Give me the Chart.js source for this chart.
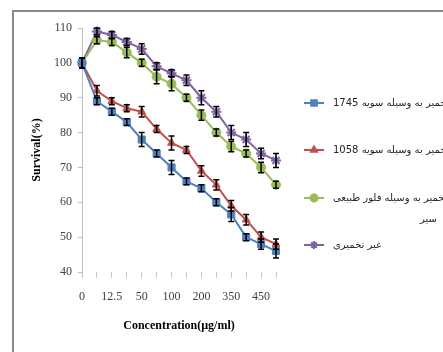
<!DOCTYPE html>
<html>
<head>
<meta charset="utf-8">
<script src="https://cdn.jsdelivr.net/npm/chart.js@4"></script>
<style>
  html, body { margin: 0; padding: 0; background: #fff; overflow: hidden; }
  #wrap { position: relative; width: 443px; height: 352px; }
  #frame { position: absolute; left: 12px; top: 10px; width: 500px; height: 400px;
           border-left: 2px solid #8a8a8a; border-top: 2px solid #8a8a8a; }
  canvas { position: absolute; left: 0; top: 0; }
</style>
</head>
<body>
<div id="wrap">
  <div id="frame"></div>
  <canvas id="chart" width="443" height="352"></canvas>
</div>
<script>
// Data
const concentrations = ['0', '6.25', '12.5', '25', '50', '75', '100', '150', '200', '300', '350', '400', '450', '500']
const yTicks = [40, 50, 60, 70, 80, 90, 100, 110]

const strain1745 = [100, 89, 86, 83, 78, 74, 70, 66, 64, 60, 56.5, 50, 48, 46]
const strain1058 = [100, 92, 89, 87, 86, 81, 77, 75, 69, 65, 59, 55, 50, 48]
const naturalFlora = [100, 106.5, 106, 103, 100, 96, 94, 90, 85, 80, 76, 74, 70, 65]
const unfermented = [100, 109, 108, 106, 104, 99, 97, 95, 90, 86, 80, 78, 74, 72]

const err1745 = [1.5, 1, 1, 1, 2, 1, 2, 1, 1, 1, 2, 1, 1.5, 2]
const err1058 = [1.5, 1.5, 1, 1, 1.5, 1, 2, 1, 1.5, 1.5, 1.5, 1.5, 1.5, 1.5]
const errFlora = [1.5, 1, 1, 1.5, 1, 2, 2, 1, 1.5, 1, 1.5, 1, 1.5, 1]
const errUnfermented = [1.5, 1, 1, 1, 1.5, 1, 1, 1.5, 2, 1.5, 2, 2, 1.5, 2]

const seriesNames = [
    ['تخمیر به وسیله سویه 1745'],
    ['تخمیر به وسیله سویه 1058'],
    ['تخمیر به وسیله فلور طبیعی', 'سیر'],
    ['غیر تخمیری']
]

const blue = '#4f81bd'
const red = '#c0504d'
const green = '#9bbb59'
const purple = '#8064a2'

function makeSet(idx, data, errors, color, style, radius) {
    return {
        label: seriesNames[idx].join(' '),
        data: data,
        errors: errors,
        borderColor: color,
        backgroundColor: color,
        pointBackgroundColor: color,
        pointBorderColor: color,
        pointStyle: style,
        pointRadius: radius,
        pointBorderWidth: style === 'star' ? 2 : 1,
        borderWidth: 2,
        tension: 0,
        clip: false
    }
}

// error bars drawn through the scales
const errorBars = {
    id: 'errorBars',
    afterDatasetsDraw(chart) {
        const { ctx, scales: { x, y } } = chart
        ctx.save()
        ctx.strokeStyle = '#000'
        ctx.lineWidth = 1.5
        chart.data.datasets.forEach(ds => {
            ds.data.forEach((v, i) => {
                const e = ds.errors[i]
                const px = x.getPixelForValue(i)
                const top = y.getPixelForValue(v + e)
                const bot = y.getPixelForValue(v - e)
                ctx.beginPath()
                ctx.moveTo(px, top); ctx.lineTo(px, bot)
                ctx.moveTo(px - 3, top); ctx.lineTo(px + 3, top)
                ctx.moveTo(px - 3, bot); ctx.lineTo(px + 3, bot)
                ctx.stroke()
            })
        })
        // y axis line runs a little past the bottom, like the original
        ctx.strokeStyle = '#bfbfbf'
        ctx.lineWidth = 1
        ctx.beginPath()
        ctx.moveTo(x.left + 0.5, y.bottom)
        ctx.lineTo(x.left + 0.5, y.bottom + 5)
        ctx.stroke()
        ctx.restore()
    }
}

// legend on the right, persian text drawn right-to-left
const sideLegend = {
    id: 'sideLegend',
    afterDraw(chart) {
        const ctx = chart.ctx
        const rows = [103, 150, 198, 245]
        ctx.save()
        chart.data.datasets.forEach((ds, i) => {
            const yy = rows[i]
            ctx.strokeStyle = ds.borderColor
            ctx.lineWidth = 2
            ctx.beginPath()
            ctx.moveTo(304, yy); ctx.lineTo(324, yy)
            ctx.stroke()
            ctx.fillStyle = ds.backgroundColor
            Chart.helpers.drawPoint(ctx, {
                pointStyle: ds.pointStyle,
                radius: ds.pointRadius - 1,
                borderWidth: ds.pointBorderWidth
            }, 314, yy)
            if (ds.pointStyle !== 'star') ctx.fill()

            ctx.fillStyle = '#262626'
            ctx.font = '10px "DejaVu Sans"'
            ctx.direction = 'rtl'
            ctx.textBaseline = 'middle'
            const lines = seriesNames[i]
            ctx.textAlign = 'left'
            ctx.fillText(lines[0], 333, yy)
            if (lines.length > 1) {
                ctx.textAlign = 'right'
                ctx.fillText(lines[1], 437, yy + 21)
            }
        })
        ctx.restore()
    }
}

new Chart(document.getElementById('chart'), {
    type: 'line',
    data: {
        labels: concentrations,
        datasets: [
            makeSet(0, strain1745, err1745, blue, 'rect', 5),
            makeSet(1, strain1058, err1058, red, 'triangle', 4.5),
            makeSet(2, naturalFlora, errFlora, green, 'circle', 4.5),
            makeSet(3, unfermented, errUnfermented, purple, 'star', 5)
        ]
    },
    options: {
        responsive: false,
        animation: false,
        layout: { padding: { top: 28, right: 167, left: 0, bottom: 0 } },
        plugins: {
            legend: { display: false },
            tooltip: { enabled: false }
        },
        scales: {
            x: {
                offset: false,
                afterFit: s => { s.height = 80 },
                border: { display: false },
                grid: {
                    drawOnChartArea: false,
                    drawTicks: true,
                    tickLength: 6,
                    color: '#c8c8c8',
                    offset: false
                },
                ticks: {
                    autoSkip: false,
                    maxRotation: 0,
                    padding: 12,
                    color: '#404040',
                    font: { family: '"Liberation Serif"', size: 12 },
                    callback: (val, i) => (i % 2 === 0 ? concentrations[i] : '')
                },
                title: {
                    display: true,
                    text: 'Concentration(µg/ml)',
                    color: '#000',
                    font: { family: '"Liberation Serif"', size: 12, weight: 'bold' },
                    padding: { top: 0, bottom: 19 }
                }
            },
            y: {
                min: yTicks[0],
                max: yTicks[yTicks.length - 1],
                afterFit: s => { s.width = 82 },
                afterBuildTicks: s => { s.ticks = yTicks.map(v => ({ value: v })) },
                border: { display: true, color: '#bfbfbf', width: 1 },
                grid: {
                    drawOnChartArea: false,
                    tickLength: 4,
                    color: '#bfbfbf'
                },
                ticks: {
                    padding: 6,
                    color: '#404040',
                    font: { family: '"Liberation Serif"', size: 12 }
                },
                title: {
                    display: true,
                    text: 'Survival(%)',
                    color: '#000',
                    font: { family: '"Liberation Serif"', size: 12, weight: 'bold' },
                    padding: { top: 30, bottom: 0 }
                }
            }
        }
    },
    plugins: [errorBars, sideLegend]
})
</script>
</body>
</html>
